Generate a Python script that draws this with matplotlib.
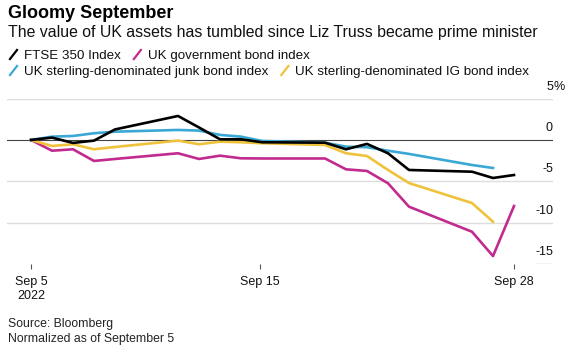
import matplotlib
matplotlib.use("Agg")
import matplotlib.pyplot as plt
from matplotlib.lines import Line2D

plt.rcParams['font.family'] = ['Liberation Sans', 'DejaVu Sans']

# trading days, as days after Sep 5 2022
days = [0, 1, 2, 3, 4, 7, 8, 9, 10, 11, 14, 15, 16, 17, 18, 21, 22, 23]

# % change since Sep 5
ftse = [0, 0.28, -0.36, -0.08, 1.27, 2.9, 1.51, 0.08, 0.08, -0.28, -0.33,
        -1.13, -0.48, -1.61, -3.63, -3.84, -4.6, -4.24]
gilts = [0, -1.3, -1.13, -2.54, -2.3, -1.61, -2.3, -1.9, -2.22, -2.24, -2.24,
         -3.55, -3.75, -5.24, -8.07, -11.1, -14.04, -7.99]
junk = [0, 0.4, 0.48, 0.81, 1.0, 1.21, 1.13, 0.61, 0.4, -0.12, -0.33,
        -0.81, -0.88, -1.3, -1.69, -3.03, -3.39]
ig = [0, -0.73, -0.52, -1.13, -0.85, -0.08, -0.52, -0.21, -0.28, -0.4, -0.61,
      -1.61, -1.94, -3.63, -5.21, -7.63, -9.89]

names = ['FTSE 350 Index', 'UK government bond index',
         'UK sterling-denominated junk bond index',
         'UK sterling-denominated IG bond index']
colors = ['#000000', '#c12a8e', '#3aa8d4', '#efc23c']

yticks = [5, 0, -5, -10, -15]
xtick_pos = [0, 10.9, 23]
xtick_labels = ['Sep 5\n2022', 'Sep 15', 'Sep 28']

W, H = 574, 349
fig = plt.figure(figsize=(W / 100, H / 100), dpi=100)
ax = fig.add_axes([7 / W, (H - 264) / H, 546 / W, 165.4 / H])
ax.set_xlim(-24 / 21, 23 + 39 / 21)
ax.set_ylim(-15, 5)

# grid lines
for v in [5, -5, -10]:
    ax.axhline(v, color='#dddddd', lw=1, zorder=0)
ax.axhline(0, color='#444444', lw=0.8, zorder=1)
ax.axhline(-15, xmin=0.969, xmax=1, color='#444444', lw=0.8)

# series
ax.plot(days, gilts, color=colors[1], lw=1.9, zorder=3)
ax.plot(days[:len(ig)], ig, color=colors[3], lw=1.9, zorder=3)
ax.plot(days[:len(junk)], junk, color=colors[2], lw=1.9, zorder=4)
ax.plot(days, ftse, color=colors[0], lw=1.9, zorder=5)

for s in ax.spines.values():
    s.set_visible(False)
ax.set_yticks([])
ax.set_xticks(xtick_pos)
ax.set_xticklabels(xtick_labels, fontsize=9, color='#111111', linespacing=1.2)
ax.tick_params(axis='x', length=3.5, width=0.8, color='#555555', pad=5)

# right side value labels, sitting above the grid lines
for v in yticks:
    ax.annotate(str(v), xy=(1, v), xycoords=('axes fraction', 'data'),
                xytext=(0, 8.6), textcoords='offset points',
                ha='right', va='center', fontsize=9, color='#111111',
                annotation_clip=False)
ax.annotate('%', xy=(1, 5), xycoords=('axes fraction', 'data'),
            xytext=(0, 8.6), textcoords='offset points',
            ha='left', va='center', fontsize=9, color='#111111',
            annotation_clip=False)

# titles
fig.text(8 / W, 1 - 17.5 / H, 'Gloomy September', fontsize=13,
         fontweight='bold', va='baseline')
fig.text(8 / W, 1 - 37.5 / H,
         'The value of UK assets has tumbled since Liz Truss became prime minister',
         fontsize=11.4, va='baseline', color='#111111')

# legend, laid out like flowing text
fig.canvas.draw()
rend = fig.canvas.get_renderer()
rows = [[0, 1], [2, 3]]
baselines = [59, 75]
for row, base in zip(rows, baselines):
    x = 10
    for i in row:
        yc = base - 4.5
        fig.add_artist(Line2D([x / W, (x + 7) / W],
                              [1 - (yc + 4.5) / H, 1 - (yc - 4.5) / H],
                              transform=fig.transFigure, color=colors[i], lw=1.6))
        t = fig.text((x + 14) / W, 1 - base / H, names[i], fontsize=9.6,
                     va='baseline', color='#111111')
        bb = t.get_window_extent(rend)
        x = bb.x1 + 13

# footer
fig.text(8 / W, 1 - 327 / H, 'Source: Bloomberg', fontsize=8.8, va='baseline',
         color='#222222')
fig.text(8 / W, 1 - 342 / H, 'Normalized as of September 5', fontsize=8.8,
         va='baseline', color='#222222')

fig.savefig('out.png', dpi=100)
